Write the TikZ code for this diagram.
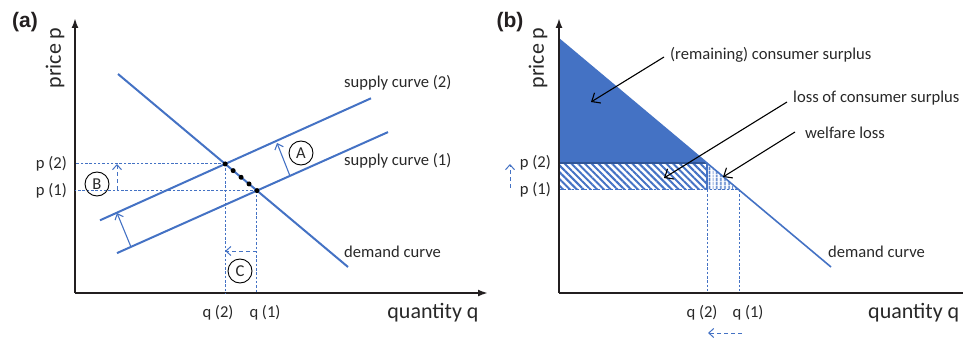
\documentclass[tikz,border=0pt]{standalone}
\usepackage{fontspec}
\setmainfont{Carlito}
\newfontfamily\PanelFamily{Liberation Sans}
\usetikzlibrary{arrows.meta,calc,patterns.meta}
\definecolor{CurveBlue}{RGB}{68,114,196}
\definecolor{SurplusEdge}{RGB}{47,85,151}
\definecolor{AxisGray}{RGB}{35,31,32}
\definecolor{TextGray}{RGB}{40,40,40}
\newcommand{\LabelFont}{\fontsize{16.6}{19}\selectfont}
\newcommand{\AxisFont}{\fontsize{22}{26}\selectfont}
\newcommand{\PanelFont}{\PanelFamily\bfseries\fontsize{21}{25}\selectfont}

\begin{document}
\begin{tikzpicture}[x=1pt, y=-1pt,
	axis/.style={draw=AxisGray, line width=2pt, -{Latex[length=10pt,width=7pt]}},
	curve/.style={draw=CurveBlue, line width=2pt},
	guide/.style={draw=CurveBlue, line width=1pt, dash pattern=on 2.5pt off 1.8pt},
	shiftarrow/.style={draw=CurveBlue, line width=1.1pt, -{Straight Barb[length=5pt,width=9pt]}},
	shiftdashed/.style={shiftarrow, line width=1pt, dash pattern=on 4pt off 3pt},
	pointer/.style={draw=black, line width=1.1pt, -{Straight Barb[length=7pt,width=12pt]}},
	letterbox/.style={circle, draw=black, line width=0.9pt, minimum size=24pt, inner sep=0pt, font=\LabelFont, text=TextGray},
	lbl/.style={font=\LabelFont, text=TextGray, inner sep=0pt},
	axislbl/.style={font=\AxisFont, text=TextGray, inner sep=0pt},
	panel/.style={font=\PanelFont, text=AxisGray, inner sep=0pt}]
	\clip (0,0) rectangle (963,339);
	\useasboundingbox (0,0) rectangle (963,339);

	% ---------- (a) ----------
	\node[panel] (tagA) at (25,22) {(a)};
	\coordinate (oA) at (75,293);
	\coordinate (ytopA) at (75,18);
	\coordinate (xendA) at (488,293);
	\draw[axis] (oA) -- (ytopA);
	\draw[axis] (oA) -- (xendA);
	\node[axislbl, rotate=90] (priceA) at (55,58) {price p};
	\node[axislbl] (qtyA) at (433,313) {quantity q};

	\coordinate (dA1) at (118,74);
	\coordinate (dA2) at (348,267);
	\coordinate (sTwo1) at (100,220.3);
	\coordinate (sTwo2) at (371,98.3);
	\coordinate (sOne1) at (117,253.1);
	\coordinate (sOne2) at (388,132.1);
	\coordinate (E2) at (intersection of dA1--dA2 and sTwo1--sTwo2);
	\coordinate (E1) at (intersection of dA1--dA2 and sOne1--sOne2);

	% dashed guides
	\draw[guide] (E2) -- (E2 -| oA);
	\draw[guide] (E1) -- (E1 -| oA);
	\draw[guide] (E2) -- (E2 |- oA);
	\draw[guide] (E1) -- (E1 |- oA);

	\draw[curve] (dA1) -- (dA2);
	\draw[curve] (sTwo1) -- (sTwo2);
	\draw[curve] (sOne1) -- (sOne2);

	\foreach \t in {0,0.25,0.5,0.75,1}
		\fill[black] ($(E2)!\t!(E1)$) circle (2.5pt);

	\node[lbl, anchor=east] (p2A) at ($(E2 -| oA)+(-8,0)$) {p (2)};
	\node[lbl, anchor=east] (p1A) at ($(E1 -| oA)+(-8,0)$) {p (1)};
	\node[lbl] (q2A) at (218,313) {q (2)};
	\node[lbl] (q1A) at (265,313) {q (1)};

	\node[lbl, anchor=west] (supTwo) at (344,83) {supply curve (2)};
	\node[lbl, anchor=west] (supOne) at (344,161) {supply curve (1)};
	\node[lbl, anchor=west] (demA) at (344,252) {demand curve};

	% shifts A, B, C
	\coordinate (shA1) at (290,176);
	\coordinate (shA2) at (277,143);
	\coordinate (shL1) at (131,247);
	\coordinate (shL2) at (117,213);
	\draw[shiftarrow] (shA1) -- (shA2);
	\draw[shiftarrow] (shL1) -- (shL2);
	\node[letterbox] (circA) at (301,153) {A};
	\draw[shiftdashed] (117,190) -- (117,164);
	\node[letterbox] (circB) at (97,184) {B};
	\draw[shiftdashed] (E1 |- 0,251) -- (E2 |- 0,251);
	\node[letterbox] (circC) at (240,271) {C};

	% ---------- (b) ----------
	\node[panel] (tagB) at (510,22) {(b)};
	\coordinate (oB) at (559,293);
	\coordinate (ytopB) at (559,18);
	\coordinate (xendB) at (975,293);
	\coordinate (dB1) at (559,39);
	\coordinate (dB2) at (831,267);
	\coordinate (P2b) at (559,163);
	\coordinate (P1b) at (559,190);
	\coordinate (E2b) at (707,163);
	\coordinate (E1b) at (739,190);

	\fill[CurveBlue] (dB1) -- (E2b) -- (P2b) -- cycle;
	\fill[pattern={Lines[angle=-45,distance=4.8pt,line width=2pt]}, pattern color=CurveBlue]
		(P2b) rectangle (E2b |- P1b);
	\fill[pattern={Lines[angle=90,distance=4pt,line width=1.8pt]}, pattern color=CurveBlue]
		(E2b) -- (E2b |- P1b) -- (E1b) -- cycle;
	\draw[SurplusEdge, line width=1.8pt] (P2b) -- (E2b);
	\draw[CurveBlue, line width=1.2pt] (E2b) -- (E2b |- P1b);
	\draw[guide] (P1b) -- (E1b);
	\draw[guide] (E2b |- P1b) -- (E2b |- oB);
	\draw[guide] (E1b) -- (E1b |- oB);
	\draw[draw=CurveBlue, line width=1.6pt] (dB1) -- (dB2);

	\draw[axis] (oB) -- (ytopB);
	\draw[axis] (oB) -- (xendB);
	\node[axislbl, rotate=90] (priceB) at (538,58) {price p};
	\node[axislbl, anchor=west] (qtyB) at (868,313) {quantity q};

	\node[lbl, anchor=east] (p2B) at ($(P2b)+(-8,0)$) {p (2)};
	\node[lbl, anchor=east] (p1B) at ($(P1b)+(-8,0)$) {p (1)};
	\node[lbl] (q2B) at (702,313) {q (2)};
	\node[lbl] (q1B) at (748,313) {q (1)};
	\node[lbl, anchor=west] (demB) at (828,252) {demand curve};
	\draw[shiftdashed] (510,188) -- (510,164);
	\draw[shiftdashed] (742,333) -- (708,333);

	% surplus callouts
	\node[lbl, anchor=west] (csText) at (670,55) {(remaining) consumer surplus};
	\node[lbl, anchor=west] (lossText) at (793,98) {loss of consumer surplus};
	\node[lbl, anchor=west] (wlText) at (805,133) {welfare loss};
	\coordinate (csTip) at (591,102);
	\coordinate (lossTip) at (664,178);
	\coordinate (wlTip) at (723,177);
	\draw[pointer] ($(csText.west)+(-6,2)$) -- (csTip);
	\draw[pointer] ($(lossText.west)+(-6,4)$) -- (lossTip);
	\draw[pointer] ($(wlText.west)+(-10,-1)$) -- (wlTip);
\end{tikzpicture}
\end{document}
